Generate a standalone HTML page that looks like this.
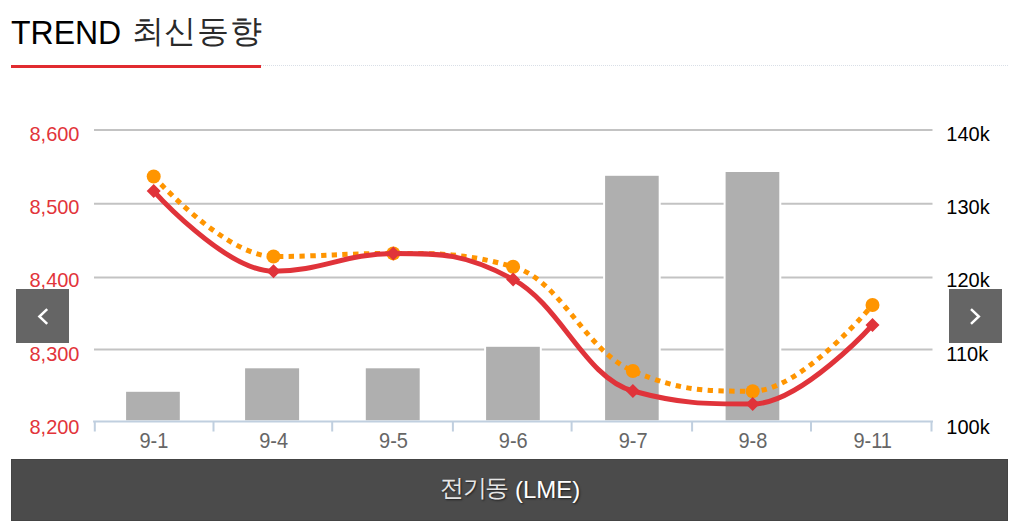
<!DOCTYPE html>
<html><head><meta charset="utf-8">
<style>
html,body{margin:0;padding:0;background:#fff;width:1018px;height:532px;overflow:hidden;font-family:"Liberation Sans",sans-serif;}
.t1{position:absolute;left:11px;top:13px;font-size:32px;line-height:40px;color:#000;white-space:nowrap;transform:scaleY(1.045);transform-origin:0 31px;}
.t2{position:absolute;left:131.7px;top:11px;font-size:32px;line-height:40px;color:#000;white-space:nowrap;letter-spacing:0.7px;color:#2a2a2a;}
.hline{position:absolute;left:11px;top:65px;width:997px;height:0;border-top:1px dotted #d9dfe7;}
.hred{position:absolute;left:11px;top:65px;width:250px;height:3px;background:#e12b30;}
svg{position:absolute;left:0;top:0;}
.bar{position:absolute;left:11px;top:459px;width:995px;height:60px;background:#4b4b4b;border:1px solid #444;}
.bt{position:absolute;left:0;top:0;width:100%;color:#fff;font-size:24px;line-height:60px;text-align:center;text-shadow:1px 1px 2px rgba(0,0,0,.6);white-space:nowrap;}
.bt span{letter-spacing:-1.2px;color:#e6e6e6;position:relative;top:-2px;}
.nav{position:absolute;top:289px;width:53px;height:54px;background:#656565;}
</style></head><body>
<div class="t1">TREND</div>
<div class="t2">최신동향</div>
<div class="hline"></div>
<div class="hred"></div>
<svg width="1018" height="532" viewBox="0 0 1018 532">
 <g stroke="#c3c3c3" stroke-width="2" fill="none">
  <path d="M94 129.9H932.5"/>
  <path d="M94 203.8H932.5"/>
  <path d="M94 277.4H932.5"/>
  <path d="M94 349.5H932.5"/>
 </g>
 <g fill="#fff">
  <rect x="124.1" y="389.8" width="57.7" height="31.5"/>
  <rect x="243.1" y="366.3" width="58.0" height="55.0"/>
  <rect x="363.8" y="366.3" width="57.9" height="55.0"/>
  <rect x="484.1" y="344.8" width="57.7" height="76.5"/>
  <rect x="603.1" y="173.8" width="57.6" height="247.5"/>
  <rect x="723.6" y="170.0" width="57.7" height="251.3"/>
 </g>
 <g fill="#afafaf">
  <rect x="126.1" y="391.8" width="53.7" height="28.5"/>
  <rect x="245.1" y="368.3" width="54.0" height="52.0"/>
  <rect x="365.8" y="368.3" width="53.9" height="52.0"/>
  <rect x="486.1" y="346.8" width="53.7" height="73.5"/>
  <rect x="605.1" y="175.8" width="53.6" height="244.5"/>
  <rect x="725.6" y="172.0" width="53.7" height="248.3"/>
 </g>
 <g stroke="#c0cfdf" stroke-width="2" fill="none">
  <path d="M93.1 421.5H933"/>
  <path d="M94.8 421.5V431.5M213.5 421.5V431.5M332.2 421.5V431.5M452.9 421.5V431.5M571.6 421.5V431.5M692.1 421.5V431.5M811.0 421.5V431.5M931.5 421.5V431.5"/>
 </g>
 <g font-family="Liberation Sans, sans-serif" font-size="20" fill="#e2343a" text-anchor="end">
  <text x="79.5" y="0" transform="translate(0 140.7) scale(1 1.04)">8,600</text>
  <text x="79.5" y="0" transform="translate(0 214.0) scale(1 1.04)">8,500</text>
  <text x="79.5" y="0" transform="translate(0 287.0) scale(1 1.04)">8,400</text>
  <text x="79.5" y="0" transform="translate(0 360.8) scale(1 1.04)">8,300</text>
  <text x="79.5" y="0" transform="translate(0 433.9) scale(1 1.04)">8,200</text>
 </g>
 <g font-family="Liberation Sans, sans-serif" font-size="20" fill="#000">
  <text x="946.3" y="0" transform="translate(0 140.7) scale(1 1.04)">140k</text>
  <text x="946.3" y="0" transform="translate(0 214.0) scale(1 1.04)">130k</text>
  <text x="946.3" y="0" transform="translate(0 287.0) scale(1 1.04)">120k</text>
  <text x="946.3" y="0" transform="translate(0 360.8) scale(1 1.04)">110k</text>
  <text x="946.3" y="0" transform="translate(0 433.9) scale(1 1.04)">100k</text>
 </g>
 <g font-family="Liberation Sans, sans-serif" font-size="20" fill="#666" text-anchor="middle">
  <text x="153.89999999999998" y="0" transform="translate(0 447.8) scale(1 1.07)">9-1</text>
  <text x="273.7" y="0" transform="translate(0 447.8) scale(1 1.07)">9-4</text>
  <text x="393.5" y="0" transform="translate(0 447.8) scale(1 1.07)">9-5</text>
  <text x="513.3000000000001" y="0" transform="translate(0 447.8) scale(1 1.07)">9-6</text>
  <text x="633.1" y="0" transform="translate(0 447.8) scale(1 1.07)">9-7</text>
  <text x="752.9000000000001" y="0" transform="translate(0 447.8) scale(1 1.07)">9-8</text>
  <text x="872.7" y="0" transform="translate(0 447.8) scale(1 1.07)">9-11</text>
 </g>
 <path fill="none" stroke="#ff9500" stroke-width="5" stroke-dasharray="5.4 5.4" d="M 153.70 176.50 C 153.70 176.50 225.58 256.50 273.50 256.50 C 321.42 256.50 345.38 253.40 393.30 253.40 C 441.22 253.40 465.18 253.40 513.10 266.70 C 561.02 280.00 584.98 350.80 632.90 371.00 C 680.82 391.20 704.78 391.20 752.70 391.20 C 800.62 391.20 872.50 305.00 872.50 305.00"/>
 <g fill="#ff9500">
  <circle cx="153.7" cy="176.5" r="7"/>
  <circle cx="273.5" cy="256.5" r="7"/>
  <circle cx="393.3" cy="253.4" r="7"/>
  <circle cx="513.1" cy="266.7" r="7"/>
  <circle cx="632.9" cy="371.0" r="7"/>
  <circle cx="752.7" cy="391.2" r="7"/>
  <circle cx="872.5" cy="305.0" r="7"/>
 </g>
 <path fill="none" stroke="#e0333a" stroke-width="5" stroke-linecap="round" stroke-linejoin="round" d="M 153.70 191.10 C 153.70 191.10 225.58 271.30 273.50 271.30 C 321.42 271.30 345.38 253.40 393.30 253.40 C 441.22 253.40 465.18 253.40 513.10 279.40 C 561.02 305.40 584.98 378.00 632.90 391.00 C 680.82 404.00 704.78 404.00 752.70 404.00 C 800.62 404.00 872.50 325.00 872.50 325.00"/>
 <g fill="#e0333a">
  <path d="M153.7 184.1L160.7 191.1L153.7 198.1L146.7 191.1Z"/>
  <path d="M273.5 264.3L280.5 271.3L273.5 278.3L266.5 271.3Z"/>
  <path d="M393.3 246.4L400.3 253.4L393.3 260.4L386.3 253.4Z"/>
  <path d="M513.1 272.4L520.1 279.4L513.1 286.4L506.1 279.4Z"/>
  <path d="M632.9 384.0L639.9 391.0L632.9 398.0L625.9 391.0Z"/>
  <path d="M752.7 397.0L759.7 404.0L752.7 411.0L745.7 404.0Z"/>
  <path d="M872.5 318.0L879.5 325.0L872.5 332.0L865.5 325.0Z"/>
 </g>
</svg>
<div class="nav" style="left:16px"><svg width="53" height="54" viewBox="0 0 53 54"><path d="M31.2 20.2L23.4 27.5L31.2 34.8" fill="none" stroke="#fff" stroke-width="2.5"/></svg></div>
<div class="nav" style="left:949px"><svg width="53" height="54" viewBox="0 0 53 54"><path d="M22 20.2L29.8 27.5L22 34.8" fill="none" stroke="#fff" stroke-width="2.5"/></svg></div>
<div class="bar"><div class="bt" style="left:0.6px;top:-0.5px"><span>전기동</span> (LME)</div></div>
</body></html>
